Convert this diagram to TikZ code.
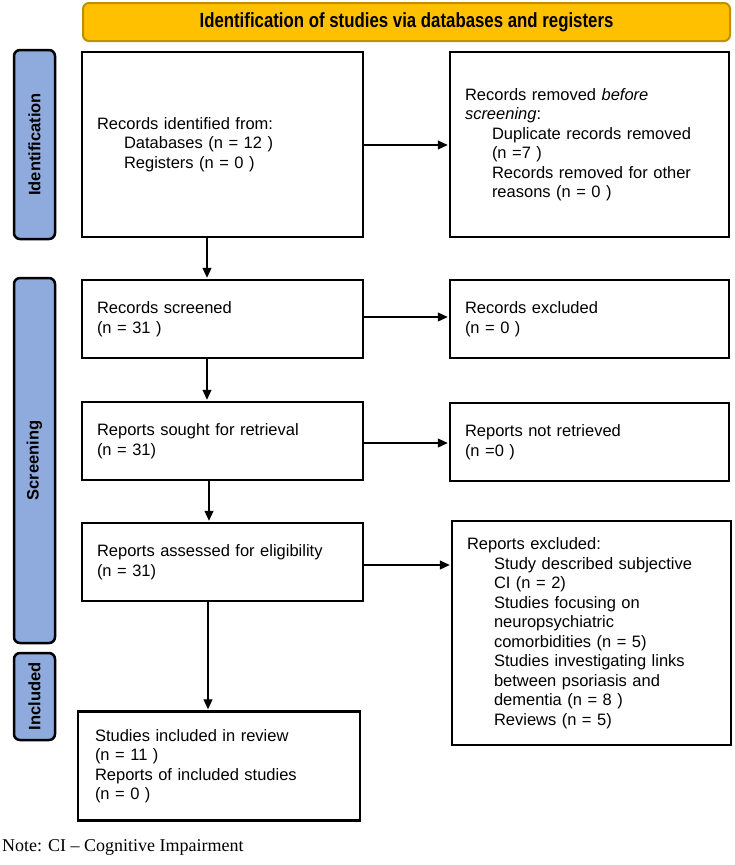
\documentclass[tikz,border=0pt]{standalone}
\usepackage{fontspec}
\setmainfont{Liberation Serif}
\setsansfont{Liberation Sans}
\newfontfamily\narrowfont[FakeStretch=0.82]{Liberation Sans}
\usetikzlibrary{arrows.meta,calc}
\definecolor{bannerfill}{RGB}{255,192,0}
\definecolor{bannerline}{RGB}{191,144,0}
\definecolor{barfill}{RGB}{143,170,220}
\newcommand{\ind}{\hspace*{27pt}}
\tikzset{
  box/.style={draw=black, line width=2.5pt, fill=white, inner xsep=15pt, inner ysep=0pt,
    align=left, font=\sffamily\fontsize{16.5}{19.5}\selectfont, anchor=center},
  sidebar/.style={draw=black, line width=2.5pt, fill=barfill, rounded corners=6pt,
    rotate=90, inner sep=0pt, minimum height=41pt,
    font=\sffamily\bfseries\fontsize{16.5}{19}\selectfont},
  banner/.style={draw=bannerline, line width=2pt, fill=bannerfill, rounded corners=6pt,
    inner sep=0pt, minimum width=647pt, minimum height=38pt,
    font=\narrowfont\bfseries\fontsize{20.5}{23}\selectfont},
  arr/.style={line width=1.2pt, -{Triangle[length=10pt,width=9pt]}, shorten >=1pt},
}
\begin{document}
\begin{tikzpicture}[x=1pt,y=-1pt]
\useasboundingbox (0,0) rectangle (734,865);

\node[banner] (ban) at (406.5,22) {Identification of studies via databases and registers};

\node[sidebar, minimum width=189pt] (sid) at (34.5,144.5) {Identification};
\node[sidebar, minimum width=365pt] (sscr) at (34.5,460.5) {Screening};
\node[sidebar, minimum width=87pt] (sinc) at (34.5,696.5) {Included};

\node[box, text width=251pt, minimum height=185pt] (A) at (222.5,144.5)
  {Records identified from:\\ \ind Databases (n = 12 )\\ \ind Registers (n = 0 )};
\node[box, text width=249pt, minimum height=185pt] (B) at (589.5,144.5)
  {Records removed \textit{before}\\ \textit{screening}:\\ \ind Duplicate records removed\\ \ind (n =7 )\\ \ind Records removed for other\\ \ind reasons (n = 0 )};

\node[box, text width=251pt, minimum height=78pt] (C) at (222.5,319)
  {Records screened\\(n = 31 )};
\node[box, text width=249pt, minimum height=78pt] (D) at (589.5,319)
  {Records excluded\\(n = 0 )};

\node[box, text width=251pt, minimum height=78pt] (E) at (222.5,441)
  {Reports sought for retrieval\\(n = 31)};
\node[box, text width=249pt, minimum height=78pt] (F) at (589.5,442)
  {Reports not retrieved\\(n =0 )};

\node[box, text width=251pt, minimum height=78pt] (G) at (222.5,562)
  {Reports assessed for eligibility\\(n = 31)};
\node[box, text width=249pt, minimum height=224pt] (H) at (591.5,633)
  {Reports excluded:\\ \ind Study described subjective\\ \ind CI (n = 2)\\ \ind Studies focusing on\\ \ind neuropsychiatric\\ \ind comorbidities (n = 5)\\ \ind Studies investigating links\\ \ind between psoriasis and\\ \ind dementia (n = 8 )\\ \ind Reviews (n = 5)};

\node[box, inner xsep=17pt, text width=248pt, minimum height=109pt] (I) at (219,766)
  {Studies included in review\\(n = 11 )\\Reports of included studies\\(n = 0 )};

\node[anchor=base west, inner sep=0pt, font=\rmfamily\fontsize{18}{21}\selectfont] (note) at (2,851)
  {Note: CI -- Cognitive Impairment};

% vertical arrows
\draw[arr] (A.south -| 207,0) -- (C.north -| 207,0);
\draw[arr] (C.south -| 207,0) -- (E.north -| 207,0);
\draw[arr] (E.south -| 209,0) -- (G.north -| 209,0);
\draw[arr] (G.south -| 208,0) -- (I.north -| 208,0);
% horizontal arrows
\draw[arr] (A.east |- 0,145) -- (B.west |- 0,145);
\draw[arr] (C.east |- 0,317) -- (D.west |- 0,317);
\draw[arr] (E.east |- 0,443) -- (F.west |- 0,443);
\draw[arr] (G.east |- 0,565) -- (H.west |- 0,565);
\end{tikzpicture}
\end{document}
